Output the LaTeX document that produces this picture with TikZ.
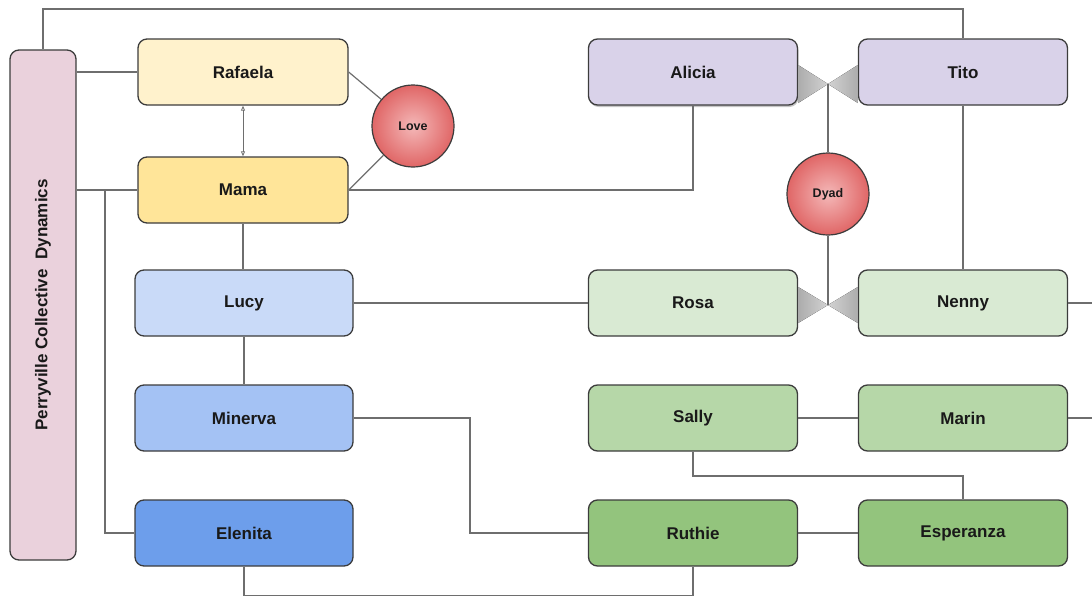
\documentclass[tikz,border=0pt]{standalone}
\usepackage{fontspec}
\setmainfont{Liberation Sans}
\usetikzlibrary{shadows,arrows.meta}
\definecolor{edge}{HTML}{3C3C3C}
\definecolor{wire}{HTML}{6E6E6E}
\definecolor{cPerry}{HTML}{EAD1DC}
\definecolor{cRaf}{HTML}{FFF2CC}
\definecolor{cMama}{HTML}{FFE599}
\definecolor{cLucy}{HTML}{C9DAF8}
\definecolor{cMin}{HTML}{A4C2F4}
\definecolor{cEle}{HTML}{6D9EEB}
\definecolor{cLav}{HTML}{D9D2E9}
\definecolor{cG1}{HTML}{D9EAD3}
\definecolor{cG2}{HTML}{B6D7A8}
\definecolor{cG3}{HTML}{93C47D}
\definecolor{cRedIn}{HTML}{F4B8B8}
\definecolor{cRedOut}{HTML}{E06666}
\tikzset{
  person/.style={draw=edge, line width=1.3pt, rounded corners=9pt, inner sep=0pt,
    minimum height=66pt, font=\fontsize{17}{20}\selectfont\bfseries, text=black!90},
  narrow/.style={person, minimum width=210pt},
  wide/.style={person, minimum width=218pt},
  rbox/.style={person, minimum width=209pt},
  bond/.style={circle, draw=edge, line width=1.2pt, minimum size=82pt, inner sep=0pt,
    inner color=cRedIn, outer color=cRedOut, font=\fontsize{12.5}{15}\selectfont\bfseries, text=black!90},
  wireline/.style={draw=wire, line width=1.2pt},
  tie/.style={left color=gray!65, right color=gray!35, draw=none},
  tier/.style={left color=gray!35, right color=gray!65, draw=none}
}
\begin{document}
\begin{tikzpicture}[x=1pt,y=-1pt]
\useasboundingbox (0,0) rectangle (1092,597);
% boxes
\node[person, fill=cPerry, minimum width=510pt, minimum height=66pt, rotate=90] (perry) at (43,305) {Perryville Collective\ \ Dynamics};
\node[narrow, fill=cRaf] (raf) at (243,72) {Rafaela};
\node[narrow, fill=cMama] (mama) at (243,190) {Mama};
\node[wide, fill=cLucy] (lucy) at (244,303) {Lucy};
\node[wide, fill=cMin] (min) at (244,418) {Minerva};
\node[wide, fill=cEle] (ele) at (244,533) {Elenita};
\node[rbox, fill=cLav, drop shadow={shadow xshift=1pt, shadow yshift=-2pt, opacity=0.45}] (alicia) at (693,72) {Alicia};
\node[rbox, fill=cLav] (tito) at (963,72) {Tito};
\node[rbox, fill=cG1] (rosa) at (693,303) {Rosa};
\node[rbox, fill=cG1] (nenny) at (963,303) {Nenny};
\node[rbox, fill=cG2] (sally) at (693,418) {Sally};
\node[rbox, fill=cG2] (marin) at (963,418) {Marin};
\node[rbox, fill=cG3] (ruthie) at (693,533) {Ruthie};
\node[rbox, fill=cG3] (esp) at (963,533) {Esperanza};
\node[bond] (love) at (413,126) {Love};
\node[bond] (dyad) at (828,194) {Dyad};
% bowties
\coordinate (tieTop) at (828,84);
\coordinate (tieBot) at (828,305);
\fill[tie] (alicia.east |- 0,65) -- (tieTop) -- (alicia.east |- 0,103) -- cycle;
\fill[tier] (tito.west |- 0,65) -- (tieTop) -- (tito.west |- 0,103) -- cycle;
\fill[tie] (rosa.east |- 0,287) -- (tieBot) -- (rosa.east |- 0,323) -- cycle;
\fill[tier] (nenny.west |- 0,287) -- (tieBot) -- (nenny.west |- 0,323) -- cycle;
% connectors
\coordinate (rEdge1) at (1092,303);
\coordinate (rEdge2) at (1092,418);
\coordinate (topL) at (43,9);
\coordinate (topR) at (963,9);
\coordinate (busT) at (105,190);
\coordinate (busB) at (105,533);
\begin{scope}[wireline]
\draw (perry.east) -- (topL) -- (topR) -- (tito.north);
\draw (perry.south |- raf.west) -- (raf.west);
\draw (perry.south |- mama.west) -- (mama.west);
\draw (busT) -- (busB) -- (ele.west);
\draw[{Triangle[open,length=5pt,width=4pt]}-{Triangle[open,length=5pt,width=4pt]}, line width=0.8pt] (raf.south) -- (mama.north);
\draw (raf.east) -- (love);
\draw (mama.east) -- (love);
\draw (mama.east) -- (mama.east -| alicia.south) -- (alicia.south);
\draw (mama.south) -- (mama.south |- lucy.north);
\draw (lucy.east) -- (rosa.west);
\draw (lucy.south) -- (lucy.south |- min.north);
\draw (min.east) -- (470,418) -- (470,533) -- (ruthie.west);
\draw (ele.south) -- (244,595.5) -- (693,595.5) -- (ruthie.south);
\draw (sally.east) -- (marin.west);
\draw (sally.south) -- (693,476) -- (963,476) -- (esp.north);
\draw (ruthie.east) -- (esp.west);
\draw (tito.south) -- (nenny.north);
\draw (nenny.east) -- (rEdge1);
\draw (marin.east) -- (rEdge2);
\draw (tieTop) -- (dyad.north);
\draw (dyad.south) -- (tieBot);
\end{scope}
\end{tikzpicture}
\end{document}
